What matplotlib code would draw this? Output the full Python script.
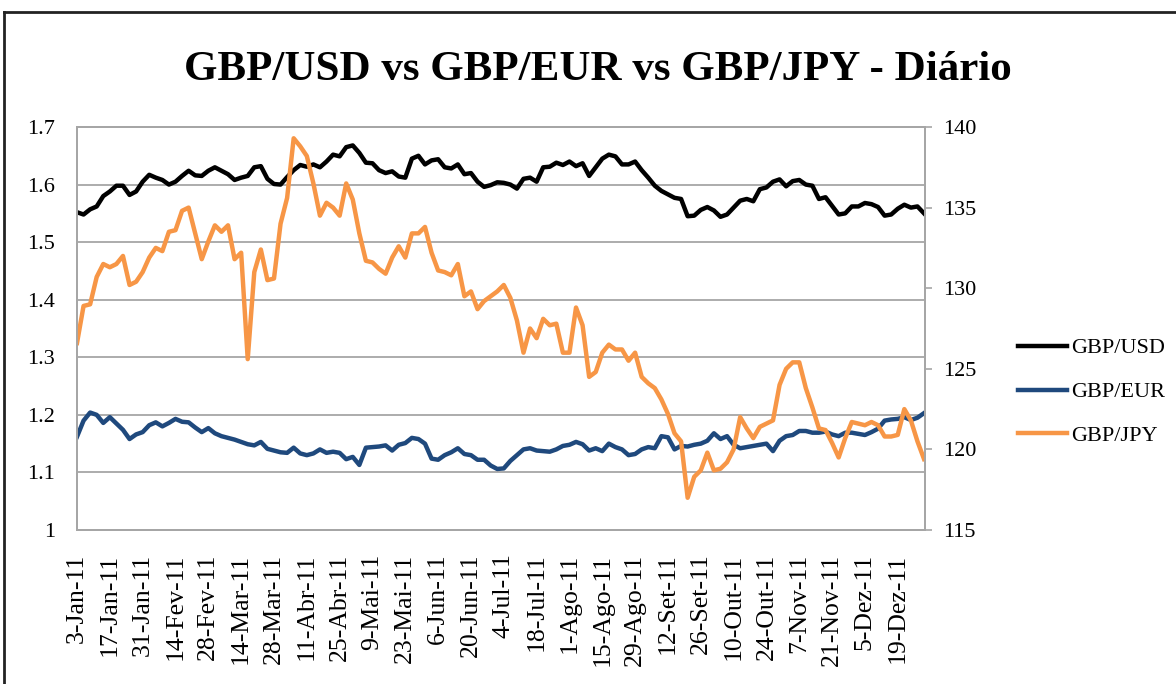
import numpy as np
import pandas as pd
import matplotlib
matplotlib.use("Agg")
import matplotlib.pyplot as plt
from matplotlib.lines import Line2D

# calendario de dias uteis de 2011, valores lidos a cada 2 dias uteis
business_days = pd.bdate_range("2011-01-03", "2011-12-30")
sample_days = business_days[::2]
meses = ["Jan", "Fev", "Mar", "Abr", "Mai", "Jun",
         "Jul", "Ago", "Set", "Out", "Nov", "Dez"]

gbp_usd = [1.552, 1.548, 1.557, 1.562, 1.580, 1.588, 1.598, 1.598, 1.582, 1.588,
           1.605, 1.617, 1.612, 1.608, 1.600, 1.605, 1.615, 1.624, 1.616, 1.615,
           1.624, 1.630, 1.624, 1.618, 1.608, 1.612, 1.615, 1.630, 1.632, 1.610,
           1.601, 1.600, 1.613, 1.625, 1.634, 1.631, 1.635, 1.630, 1.640, 1.652,
           1.649, 1.665, 1.668, 1.655, 1.638, 1.637, 1.625, 1.620, 1.623, 1.614,
           1.612, 1.645, 1.650, 1.635, 1.642, 1.644, 1.630, 1.628, 1.635, 1.618,
           1.620, 1.605, 1.596, 1.599, 1.604, 1.603, 1.600, 1.593, 1.610, 1.612,
           1.605, 1.630, 1.631, 1.638, 1.634, 1.640, 1.632, 1.637, 1.615, 1.630,
           1.645, 1.652, 1.649, 1.635, 1.635, 1.640, 1.625, 1.612, 1.598, 1.589,
           1.583, 1.577, 1.575, 1.545, 1.546, 1.556, 1.561, 1.555, 1.544, 1.548,
           1.560, 1.572, 1.575, 1.571, 1.592, 1.595, 1.605, 1.609, 1.597, 1.606,
           1.608, 1.600, 1.598, 1.575, 1.578, 1.563, 1.548, 1.550, 1.562, 1.562,
           1.568, 1.566, 1.561, 1.546, 1.548, 1.558, 1.565, 1.560, 1.562, 1.550]

gbp_eur = [1.162, 1.190, 1.204, 1.200, 1.186, 1.196, 1.185, 1.174, 1.158, 1.166,
           1.170, 1.182, 1.187, 1.180, 1.186, 1.193, 1.188, 1.187, 1.178, 1.170,
           1.177, 1.168, 1.163, 1.160, 1.157, 1.153, 1.149, 1.147, 1.153, 1.141,
           1.138, 1.135, 1.134, 1.143, 1.133, 1.130, 1.133, 1.140, 1.134, 1.136,
           1.134, 1.123, 1.127, 1.113, 1.143, 1.144, 1.145, 1.147, 1.138, 1.148,
           1.151, 1.160, 1.158, 1.150, 1.124, 1.122, 1.130, 1.135, 1.142, 1.132,
           1.130, 1.122, 1.122, 1.112, 1.106, 1.107, 1.120, 1.130, 1.140, 1.142,
           1.138, 1.137, 1.136, 1.140, 1.146, 1.148, 1.153, 1.149, 1.138, 1.142,
           1.137, 1.150, 1.144, 1.140, 1.130, 1.132, 1.140, 1.144, 1.142, 1.163,
           1.161, 1.140, 1.146, 1.145, 1.148, 1.150, 1.155, 1.168, 1.158, 1.163,
           1.148, 1.142, 1.144, 1.146, 1.148, 1.150, 1.137, 1.155, 1.163, 1.165,
           1.172, 1.172, 1.169, 1.169, 1.171, 1.166, 1.163, 1.169, 1.169, 1.167,
           1.165, 1.170, 1.176, 1.190, 1.192, 1.193, 1.196, 1.191, 1.195, 1.203]

gbp_jpy = [126.6, 128.9, 129.0, 130.7, 131.5, 131.3, 131.5, 132.0, 130.2, 130.4,
           131.0, 131.9, 132.5, 132.3, 133.5, 133.6, 134.8, 135.0, 133.4, 131.8,
           132.9, 133.9, 133.5, 133.9, 131.8, 132.2, 125.6, 131.0, 132.4, 130.5,
           130.6, 134.0, 135.6, 139.3, 138.8, 138.2, 136.5, 134.5, 135.3, 135.0,
           134.5, 136.5, 135.5, 133.4, 131.7, 131.6, 131.2, 130.9, 131.9, 132.6,
           131.9, 133.4, 133.4, 133.8, 132.2, 131.1, 131.0, 130.8, 131.5, 129.5,
           129.8, 128.7, 129.2, 129.5, 129.8, 130.2, 129.4, 128.0, 126.0, 127.5,
           126.9, 128.1, 127.7, 127.8, 126.0, 126.0, 128.8, 127.7, 124.5, 124.8,
           126.0, 126.5, 126.2, 126.2, 125.5, 126.0, 124.5, 124.1, 123.8, 123.1,
           122.2, 121.0, 120.5, 117.0, 118.3, 118.7, 119.8, 118.7, 118.8, 119.2,
           120.0, 122.0, 121.3, 120.7, 121.4, 121.6, 121.8, 124.0, 125.0, 125.4,
           125.4, 123.8, 122.6, 121.3, 121.2, 120.4, 119.5, 120.7, 121.7, 121.6,
           121.5, 121.7, 121.5, 120.8, 120.8, 120.9, 122.5, 121.8, 120.5, 119.4]

left_ticks = [1.0, 1.1, 1.2, 1.3, 1.4, 1.5, 1.6, 1.7]
right_ticks = [115, 120, 125, 130, 135, 140]

plt.rcParams["font.family"] = ["Liberation Serif", "DejaVu Serif"]

W, H = 1176, 684
fig = plt.figure(figsize=(W / 100, H / 100), dpi=100)
ax = fig.add_axes([77 / W, 1 - 530 / H, (925 - 77) / W, (530 - 127) / H])
ax2 = ax.twinx()

x = business_days.get_indexer(sample_days)

ax.plot(x, gbp_usd, color="#000000", lw=3.2, label="GBP/USD", solid_joinstyle="round")
ax.plot(x, gbp_eur, color="#1F497D", lw=3.2, label="GBP/EUR", solid_joinstyle="round")
ax2.plot(x, gbp_jpy, color="#F79646", lw=3.2, label="GBP/JPY", solid_joinstyle="round")

ax.set_xlim(0, 258.3)
ax.set_ylim(1.0, 1.7)
ax2.set_ylim(115, 140)
ax.set_yticks(left_ticks)
ax.set_yticklabels([f"{v:g}" for v in left_ticks])
ax2.set_yticks(right_ticks)

tick_pos = np.arange(0, len(business_days), 10)
tick_lab = [f"{d.day}-{meses[d.month - 1]}-11" for d in business_days[tick_pos]]
ax.set_xticks(tick_pos)
ax.set_xticklabels(tick_lab, rotation=90)

ax.grid(axis="y", color="#a6a6a6", lw=1.3)
ax.set_axisbelow(True)
for a in (ax, ax2):
    for s in a.spines.values():
        s.set_color("#a6a6a6")
        s.set_linewidth(1.3)
ax.tick_params(axis="y", length=0, pad=16, labelsize=16)
ax.tick_params(axis="x", length=0, pad=17, labelsize=18.5)
ax2.tick_params(axis="y", length=5, width=1.2, color="#a6a6a6", pad=8, labelsize=16)

handles = ax.get_lines() + ax2.get_lines()
fig.legend(handles, [h.get_label() for h in handles], loc="center left",
           bbox_to_anchor=(998 / W, 1 - 392 / H), frameon=False, fontsize=16,
           handlelength=2.2, handletextpad=0.2, labelspacing=1.05)

fig.text(598 / W, 1 - 70 / H, "GBP/USD vs GBP/EUR vs GBP/JPY - Diário",
         ha="center", va="center", fontsize=31, fontweight="bold")

# moldura exterior
fig.add_artist(Line2D([4 / W, 4 / W], [0, 1 - 12 / H], color="#222222", lw=2))
fig.add_artist(Line2D([4 / W, 1], [1 - 12 / H, 1 - 12 / H], color="#222222", lw=2))

fig.savefig("out.png", dpi=100)
